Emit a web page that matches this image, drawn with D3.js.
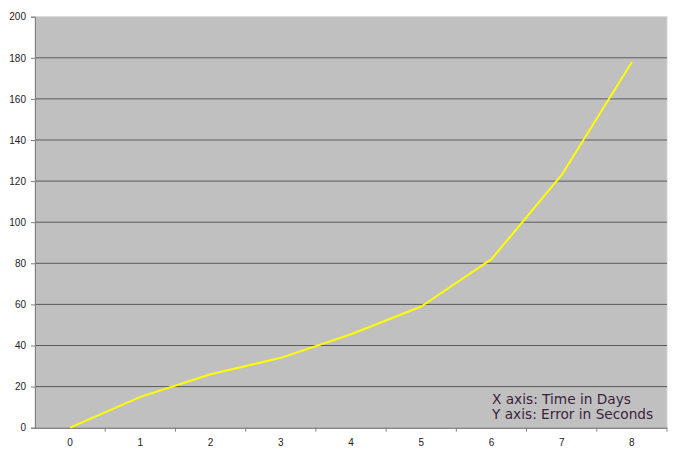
<!DOCTYPE html>
<html><head><meta charset="utf-8">
<script src="https://cdn.jsdelivr.net/npm/d3@7/dist/d3.min.js"></script>
<style>body{margin:0;background:#fff}</style>
</head><body>
<svg id="c" width="675" height="458"></svg>
<script>
const categories = ["0","1","2","3","4","5","6","7","8"];
const values = [0, 15, 26, 34, 45.5, 59, 82, 123, 178];
const yTicks = [0,20,40,60,80,100,120,140,160,180,200];
const notes = ["X axis: Time in Days", "Y axis: Error in Seconds"];

const svg = d3.select("#c");
const L = 35, R = 667, T = 16.7, B = 427.7;
const x = d3.scaleBand().domain(categories).range([L, R]);
const y = d3.scaleLinear().domain([0, 200]).range([B, T]);

svg.append("rect").attr("x", L).attr("y", T).attr("width", R - L).attr("height", B - T)
  .attr("fill", "#c0c0c0").attr("stroke", "#d4d4d4").attr("stroke-width", 1);

// gridlines
svg.append("g").selectAll("line").data(yTicks.filter(d => d > 0 && d < 200)).join("line")
  .attr("x1", L).attr("x2", R).attr("y1", d => y(d)).attr("y2", d => y(d))
  .attr("stroke", "#5a5a5a").attr("stroke-width", 1);

// y axis
const ya = svg.append("g").attr("transform", `translate(${L},0)`)
  .call(d3.axisLeft(y).tickValues(yTicks).tickSize(4).tickPadding(5));
ya.select(".domain").attr("stroke", "#808080");
ya.selectAll(".tick line").attr("stroke", "#808080");
ya.selectAll("text").attr("font-family", "Liberation Sans, Arial, sans-serif").attr("font-size", 10).attr("fill", "#222");

// x axis
const xa = svg.append("g").attr("transform", `translate(0,${B})`)
  .call(d3.axisBottom(x).tickSize(0).tickPadding(11));
xa.select(".domain").attr("stroke", "#555").attr("d", `M${L},0.5H${R}`);
xa.selectAll("text").attr("font-family", "Liberation Sans, Arial, sans-serif").attr("font-size", 10).attr("fill", "#222");
svg.append("g").selectAll("line").data(categories.slice(1).concat(["end"])).join("line")
  .attr("x1", (d, i) => L + x.step() * (i + 1)).attr("x2", (d, i) => L + x.step() * (i + 1))
  .attr("y1", B).attr("y2", B + 4).attr("stroke", "#808080");

// line
const line = d3.line().x((d, i) => x(categories[i]) + x.bandwidth() / 2).y(d => y(d));
svg.append("path").datum(values).attr("d", line).attr("fill", "none")
  .attr("stroke", "#ffff00").attr("stroke-width", 2).attr("stroke-linejoin", "round");

// annotation
svg.append("g").selectAll("text").data(notes).join("text")
  .attr("x", 492).attr("y", (d, i) => 404 + i * 15)
  .attr("font-family", "DejaVu Sans, Verdana, sans-serif").attr("font-size", 13.7)
  .attr("fill", "#3a1f3a").text(d => d);
</script>
</body></html>
